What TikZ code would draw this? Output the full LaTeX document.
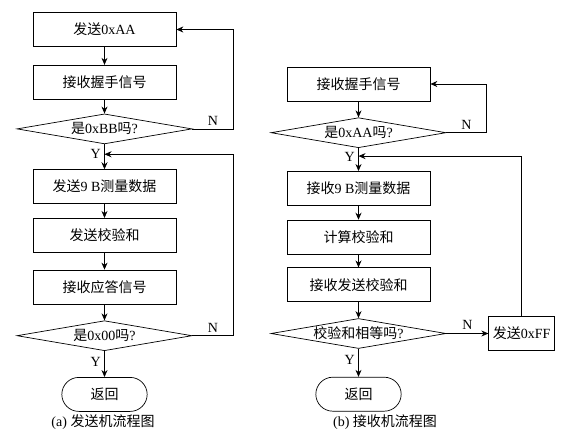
\documentclass[tikz,border=0pt]{standalone}
\usepackage{fontspec}
\setmainfont{Liberation Serif}
\newfontfamily\cjk{Noto Sans CJK SC}
\newcommand{\zh}[1]{{\cjk #1}}
\usepackage{tikz}
\usetikzlibrary{positioning,shapes,arrows.meta,calc}

\begin{document}
\begin{tikzpicture}[font=\fontsize{14}{16}\selectfont, line width=0.7pt,
		>={Stealth[length=7pt,width=6pt]},
		process/.style={draw, rectangle, minimum width=143pt, minimum height=34pt, inner sep=2pt},
		decision/.style={draw, diamond, aspect=6, inner sep=0pt, minimum width=175pt, minimum height=30pt},
		terminal/.style={draw, rounded rectangle, minimum width=92pt, minimum height=34pt}]
	\useasboundingbox (0,0) rectangle (567pt,-441pt);
	% (a) sender
	\node[process] (sendAA) at (104.5pt,-29.5pt) {\zh{发送}0xAA};
	\node[process, below=18pt of sendAA] (recvHsA) {\zh{接收握手信号}};
	\node[decision, below=14pt of recvHsA] (chkBB) {\zh{是}0xBB\zh{吗}?};
	\node[process, below=25pt of chkBB] (sendData) {\zh{发送}9 B\zh{测量数据}};
	\node[process, below=14pt of sendData] (sendSum) {\zh{发送校验和}};
	\node[process, below=17pt of sendSum] (recvAck) {\zh{接收应答信号}};
	\node[decision, below=16pt of recvAck] (chk00) {\zh{是}0x00\zh{吗}?};
	\node[terminal, below=26pt of chk00] (retA) {\zh{返回}};
	\node (capA) at (103pt,-422pt) {(a) \zh{发送机流程图}};
	\coordinate (joinA) at ($(chkBB.south)!0.4!(sendData.north)$);
	\draw[->] (sendAA) -- (recvHsA);
	\draw[->] (recvHsA) -- (chkBB);
	\draw[->] (chkBB) -- (sendData) node[pos=0.4, left] {Y};
	\draw[->] (sendData) -- (sendSum);
	\draw[->] (sendSum) -- (recvAck);
	\draw[->] (recvAck) -- (chk00);
	\draw[->] (chk00) -- (retA) node[pos=0.4, left] {Y};
	\draw[->] (chkBB.east) -- node[above] {N} ++(41pt,0) |- (sendAA.east);
	\draw[->] (chk00.east) -- node[above] {N} ++(41pt,0) |- (joinA);
	% (b) receiver
	\node[process] (recvHsB) at (358.5pt,-84pt) {\zh{接收握手信号}};
	\node[decision, below=16pt of recvHsB] (chkAA) {\zh{是}0xAA\zh{吗}?};
	\node[process, below=23pt of chkAA] (recvData) {\zh{接收}9 B\zh{测量数据}};
	\node[process, below=14pt of recvData] (calcSum) {\zh{计算校验和}};
	\node[process, below=13pt of calcSum] (recvSum) {\zh{接收发送校验和}};
	\node[decision, below=16pt of recvSum] (chkSum) {\zh{校验和相等吗}?};
	\node[terminal, below=28pt of chkSum] (retB) {\zh{返回}};
	\node[process, minimum width=66pt, right=42pt of chkSum] (sendFF) {\zh{发送}0xFF};
	\node (capB) at (385pt,-422pt) {(b) \zh{接收机流程图}};
	\coordinate (joinB) at ($(chkAA.south)!0.35!(recvData.north)$);
	\draw[->] (recvHsB) -- (chkAA);
	\draw[->] (chkAA) -- (recvData) node[pos=0.4, left] {Y};
	\draw[->] (recvData) -- (calcSum);
	\draw[->] (calcSum) -- (recvSum);
	\draw[->] (recvSum) -- (chkSum);
	\draw[->] (chkSum) -- (retB) node[pos=0.4, left] {Y};
	\draw[->] (chkSum) -- node[above] {N} (sendFF);
	\draw[->] (chkAA.east) -- node[above] {N} ++(40pt,0) |- (recvHsB.east);
	\draw[->] (sendFF.north) |- (joinB);
\end{tikzpicture}
\end{document}
